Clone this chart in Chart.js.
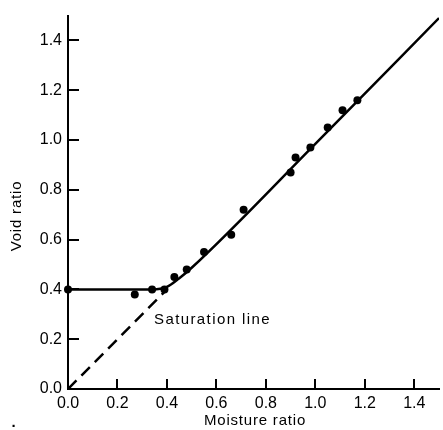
<!DOCTYPE html>
<html>
<head>
<meta charset="utf-8">
<script src="https://cdn.jsdelivr.net/npm/chart.js@4"></script>
<style>
html,body{margin:0;padding:0;background:#fff;}
#wrap{width:443px;height:430px;position:relative;}
</style>
</head>
<body>
<div id="wrap"><canvas id="c" width="443" height="430"></canvas></div>
<script>
// Measured data points (moisture ratio, void ratio)
const moistureRatio = [0.00, 0.27, 0.34, 0.39, 0.43, 0.48, 0.55, 0.66, 0.71, 0.90, 0.92, 0.98, 1.05, 1.11, 1.17];
const voidRatio     = [0.40, 0.38, 0.40, 0.40, 0.45, 0.48, 0.55, 0.62, 0.72, 0.87, 0.93, 0.97, 1.05, 1.12, 1.16];
// Fitted curve
const fitX = [0.00, 0.34, 0.40, 0.45, 0.50, 1.00, 1.50];
const fitY = [0.40, 0.40, 0.41, 0.445, 0.487, 0.985, 1.49];
// Saturation line
const satX = [0.00, 0.40];
const satY = [0.00, 0.40];
// Tick labels
const xTicks = [0.0, 0.2, 0.4, 0.6, 0.8, 1.0, 1.2, 1.4];
const yTicks = [0.0, 0.2, 0.4, 0.6, 0.8, 1.0, 1.2, 1.4];
const xTitle = "Moisture ratio";
const yTitle = "Void ratio";
const satLabel = "Saturation line";

const toPts = (xs, ys) => xs.map((x, i) => ({x: x, y: ys[i]}));
const FONT = "'Liberation Sans', Arial, Helvetica, sans-serif";

const decor = {
  id: 'decor',
  afterDraw(chart) {
    const ctx = chart.ctx;
    const xs = chart.scales.x, ys = chart.scales.y;
    const a = chart.chartArea;
    ctx.save();
    ctx.strokeStyle = '#000';
    ctx.lineWidth = 2;
    ctx.beginPath();
    xTicks.forEach(v => {
      if (v === 0) return;
      const px = Math.round(xs.getPixelForValue(v));
      ctx.moveTo(px, a.bottom);
      ctx.lineTo(px, a.bottom - 10);
    });
    yTicks.forEach(v => {
      if (v === 0) return;
      const py = Math.round(ys.getPixelForValue(v));
      ctx.moveTo(a.left, py);
      ctx.lineTo(a.left + 11, py);
    });
    ctx.stroke();
    ctx.fillStyle = '#000';
    try { ctx.letterSpacing = '1.4px'; } catch (e) {}
    ctx.font = '15px ' + FONT;
    ctx.textBaseline = 'middle';
    ctx.textAlign = 'left';
    ctx.fillText(satLabel, 154, 320);
    try { ctx.letterSpacing = '0.8px'; } catch (e) {}
    ctx.textAlign = 'center';
    ctx.fillText(xTitle, 255, 421);
    ctx.save();
    ctx.translate(17, 216);
    ctx.rotate(-Math.PI / 2);
    ctx.fillText(yTitle, 0, 0);
    ctx.restore();
    ctx.font = 'bold 15px ' + FONT;
    ctx.fillText('.', 14, 423);
    ctx.restore();
  }
};

const tickFont = {family: FONT, size: 16};

new Chart(document.getElementById('c'), {
  type: 'scatter',
  data: {
    datasets: [
      {
        data: toPts(fitX, fitY),
        showLine: true,
        borderColor: '#000',
        borderWidth: 2.5,
        pointRadius: 0,
        cubicInterpolationMode: 'monotone'
      },
      {
        data: toPts(satX, satY),
        showLine: true,
        borderColor: '#000',
        borderWidth: 2.5,
        borderDash: [12, 7],
        pointRadius: 0
      },
      {
        data: toPts(moistureRatio, voidRatio),
        showLine: false,
        pointRadius: 4,
        pointBackgroundColor: '#000',
        pointBorderColor: '#000',
        pointBorderWidth: 0,
        clip: false
      }
    ]
  },
  options: {
    responsive: false,
    animation: false,
    devicePixelRatio: 1,
    layout: {padding: {top: 14, right: 1, left: 0, bottom: 0}},
    plugins: {legend: {display: false}, tooltip: {enabled: false}},
    scales: {
      x: {
        type: 'linear',
        min: 0, max: 1.5,
        grid: {display: true, drawOnChartArea: false, drawTicks: false, color: 'rgba(0,0,0,0)'},
        border: {display: true, color: '#000', width: 2},
        afterBuildTicks: s => { s.ticks = xTicks.map(v => ({value: v})); },
        afterFit: s => { s.height = 41; },
        ticks: {color: '#000', font: tickFont, padding: 5, maxRotation: 0, autoSkip: false,
                callback: v => Number(v).toFixed(1)}
      },
      y: {
        type: 'linear',
        min: 0, max: 1.5,
        grid: {display: true, drawOnChartArea: false, drawTicks: false, color: 'rgba(0,0,0,0)'},
        border: {display: true, color: '#000', width: 2},
        afterBuildTicks: s => { s.ticks = yTicks.map(v => ({value: v})); },
        afterFit: s => { s.width = 68; },
        ticks: {color: '#000', font: tickFont, padding: 6, autoSkip: false,
                callback: v => Number(v).toFixed(1)}
      }
    }
  },
  plugins: [decor]
});
</script>
</body>
</html>
